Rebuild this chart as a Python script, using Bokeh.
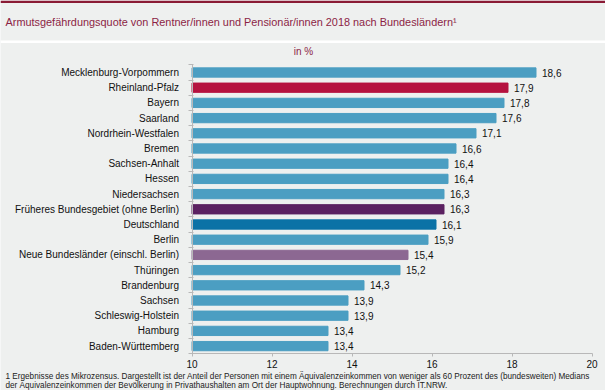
from bokeh.plotting import figure
from bokeh.models import ColumnDataSource, Range1d, FixedTicker, Label, BoxAnnotation
from bokeh.embed import file_html
from bokeh.resources import INLINE

# ---------------- data ----------------
categories = [
    "Mecklenburg-Vorpommern", "Rheinland-Pfalz", "Bayern", "Saarland",
    "Nordrhein-Westfalen", "Bremen", "Sachsen-Anhalt", "Hessen", "Niedersachsen",
    "Früheres Bundesgebiet (ohne Berlin)", "Deutschland", "Berlin",
    "Neue Bundesländer (einschl. Berlin)", "Thüringen", "Brandenburg", "Sachsen",
    "Schleswig-Holstein", "Hamburg", "Baden-Württemberg",
]
quote = [18.6, 17.9, 17.8, 17.6, 17.1, 16.6, 16.4, 16.4, 16.3, 16.3,
         16.1, 15.9, 15.4, 15.2, 14.3, 13.9, 13.9, 13.4, 13.4]
x_ticks = [10, 12, 14, 16, 18, 20]
x_min, x_max = 10, 20

title_text = "Armutsgefährdungsquote von Rentner/innen und Pensionär/innen 2018 nach Bundesländern\u00b9"
unit_text = "in %"
foot1 = ("1 Ergebnisse des Mikrozensus. Dargestellt ist der Anteil der Personen mit einem "
         "Äquivalenzeinkommen von weniger als 60 Prozent des (bundesweiten) Medians")
foot2 = ("der Äquivalenzeinkommen der Bevölkerung in Privathaushalten am Ort der Hauptwohnung. "
         "Berechnungen durch IT.NRW.")

# ---------------- styles / layout ----------------
BG = "#EEF0EF"
BAR = "#4B9EC2"
DARKRED = "#8C1F45"
AXIS = "#B8B8B8"
FONT = "Liberation Sans"
special = {
    "Rheinland-Pfalz": "#B5123F",
    "Früheres Bundesgebiet (ohne Berlin)": "#5B2161",
    "Deutschland": "#0B72A6",
    "Neue Bundesländer (einschl. Berlin)": "#8C6892",
}

W, H = 605, 390
AX_X0, PX_PER_UNIT = 191.5, 40.0      # canvas x of x_min, pixels per unit
ROW0, ROW_H = 72.0, 15.2              # canvas y of first row centre, row pitch

n = len(categories)
idx = list(range(n))
src = ColumnDataSource(dict(
    y=idx,
    v=quote,
    lbl=[f"{q:.1f}".replace(".", ",") for q in quote],
    color=[special.get(c, BAR) for c in categories],
))

x_start = x_min - AX_X0 / PX_PER_UNIT
x_end = x_min + (W - AX_X0) / PX_PER_UNIT
y_top = -ROW0 / ROW_H
y_bottom = (H - ROW0) / ROW_H

p = figure(width=W, height=H, output_backend="svg", toolbar_location=None,
           x_range=Range1d(x_start, x_end), y_range=Range1d(y_bottom, y_top),
           min_border_left=0, min_border_right=0, min_border_top=0, min_border_bottom=0,
           background_fill_color=BG, border_fill_color=BG, outline_line_color=None)
p.grid.visible = False

p.hbar(y="y", left=x_min, right="v", height=0.61, color="color", source=src)
p.text(x="v", y="y", text="lbl", source=src, x_offset=6,
       text_baseline="middle", text_align="left", text_font_size="10px",
       text_font={"value": FONT}, text_color="#111111")

# y axis (drawn at x = x_min)
ya = p.yaxis[0]
ya.fixed_location = x_min
ya.bounds = (-0.5, n - 0.5)
ya.ticker = FixedTicker(ticks=idx, minor_ticks=[i - 0.5 for i in range(n + 1)])
ya.major_label_overrides = {i: c for i, c in enumerate(categories)}
ya.major_tick_line_color = None
ya.major_tick_out = 0
ya.major_tick_in = 0
ya.minor_tick_line_color = AXIS
ya.minor_tick_out = 4
ya.minor_tick_in = 1
ya.axis_line_color = AXIS
ya.major_label_standoff = 9
ya.major_label_text_font = FONT
ya.major_label_text_font_size = "10px"
ya.major_label_text_color = "#111111"

# x axis (drawn below the last row)
xa = p.xaxis[0]
xa.fixed_location = n - 0.5
xa.bounds = (x_min, x_max)
xa.ticker = FixedTicker(ticks=x_ticks)
xa.minor_tick_line_color = None
xa.major_tick_line_color = AXIS
xa.major_tick_out = 3
xa.major_tick_in = 0
xa.axis_line_color = AXIS
xa.major_label_standoff = 3
xa.major_label_text_font = FONT
xa.major_label_text_font_size = "10px"
xa.major_label_text_color = "#111111"

# decorations in screen units (frame == whole canvas; y counted up from bottom)
def sy(canvas_y):
    return H - canvas_y

def box(top, bottom, color):
    return BoxAnnotation(left=0, right=W, top=sy(top), bottom=sy(bottom),
                         left_units="screen", right_units="screen",
                         top_units="screen", bottom_units="screen",
                         fill_color=color, fill_alpha=1, line_color=None, level="underlay")

p.add_layout(box(0, 2.5, "#8A1B35"))
p.add_layout(box(40, 42.5, "white"))

def label(x, y, text, size, color, align="left"):
    return Label(x=x, y=sy(y), x_units="screen", y_units="screen", text=text,
                 text_font=FONT, text_font_size=size, text_color=color,
                 text_baseline="middle", text_align=align)

p.add_layout(label(5, 21, title_text, "10.9px", DARKRED))
p.add_layout(label(303, 51, unit_text, "10px", DARKRED, "center"))
p.add_layout(label(5, 375.5, foot1, "8.2px", "#222222"))
p.add_layout(label(5, 384.5, foot2, "8.2px", "#222222"))

open("out.html", "w").write(file_html(p, INLINE))
